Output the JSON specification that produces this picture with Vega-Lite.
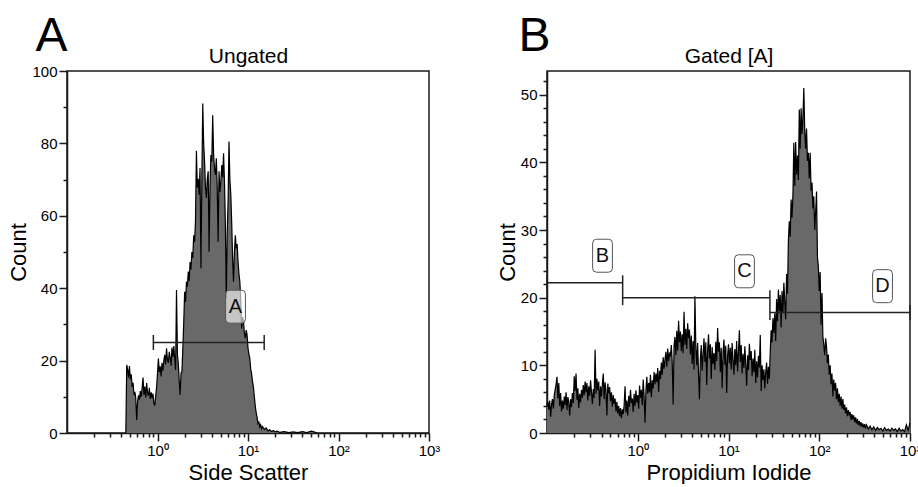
{
"$schema": "https://vega.github.io/schema/vega-lite/v6.json",
"padding": {"left": 7, "top": 11, "right": 0, "bottom": 0},
"background": "white",
"datasets": {
"histA": [
{"value":0.4467,"count":0},{"value":0.4571,"count":18.8},{"value":0.4677,"count":17.6},{"value":0.4786,"count":15.3},{"value":0.4898,"count":18.5},{"value":0.5012,"count":14.8},{"value":0.5129,"count":16.2},{"value":0.5248,"count":12.7},{"value":0.537,"count":13.9},{"value":0.5495,"count":10.5},{"value":0.5623,"count":11.4},{"value":0.5754,"count":9.6},{"value":0.5888,"count":3.6},{"value":0.6026,"count":8.6},{"value":0.6166,"count":10.4},{"value":0.631,"count":9.2},{"value":0.6457,"count":11.6},{"value":0.6607,"count":10.0},{"value":0.6761,"count":12.4},{"value":0.6918,"count":15.3},{"value":0.7079,"count":10.5},{"value":0.7244,"count":12.8},{"value":0.7413,"count":9.8},{"value":0.7586,"count":13.8},{"value":0.7762,"count":11.0},{"value":0.7943,"count":10.3},{"value":0.8128,"count":12.5},{"value":0.8318,"count":9.4},{"value":0.8511,"count":11.2},{"value":0.871,"count":9.6},{"value":0.8913,"count":10.9},{"value":0.912,"count":8.2},{"value":0.9333,"count":7.6},{"value":0.955,"count":10.2},{"value":0.9772,"count":12.7},
{"value":1.0,"count":16.4},{"value":1.023,"count":20.6},{"value":1.047,"count":16.8},{"value":1.072,"count":18.4},{"value":1.096,"count":15.6},{"value":1.122,"count":19.4},{"value":1.148,"count":17.2},{"value":1.175,"count":20.0},{"value":1.202,"count":21.6},{"value":1.23,"count":19.0},{"value":1.259,"count":23.4},{"value":1.288,"count":20.2},{"value":1.318,"count":19.4},{"value":1.349,"count":22.4},{"value":1.38,"count":20.8},{"value":1.413,"count":18.6},{"value":1.445,"count":23.6},{"value":1.479,"count":21.0},{"value":1.514,"count":24.0},{"value":1.549,"count":20.6},{"value":1.585,"count":17.4},{"value":1.622,"count":39.5},{"value":1.66,"count":21.6},{"value":1.698,"count":19.2},{"value":1.738,"count":14.4},{"value":1.778,"count":10.5},{"value":1.82,"count":16.6},{"value":1.862,"count":17.0},{"value":1.905,"count":23.4},{"value":1.95,"count":30.5},{"value":1.995,"count":39.0},{"value":2.042,"count":36.2},{"value":2.089,"count":41.8},{"value":2.138,"count":40.4},{"value":2.188,"count":44.6},{"value":2.239,"count":42.0},{"value":2.291,"count":47.2},{"value":2.344,"count":45.2},{"value":2.399,"count":50.0},{"value":2.455,"count":48.4},{"value":2.512,"count":54.6},{"value":2.57,"count":52.8},{"value":2.63,"count":58.6},{"value":2.692,"count":78.0},{"value":2.754,"count":67.8},{"value":2.818,"count":70.2},{"value":2.884,"count":65.8},{"value":2.951,"count":73.2},{"value":3.02,"count":45.5},{"value":3.09,"count":69.4},{"value":3.162,"count":91.0},{"value":3.236,"count":80.0},{"value":3.311,"count":75.0},{"value":3.388,"count":67.8},{"value":3.467,"count":64.9},{"value":3.548,"count":70.0},{"value":3.631,"count":72.3},{"value":3.715,"count":50.1},{"value":3.802,"count":68.0},{"value":3.89,"count":76.8},{"value":3.981,"count":75.0},{"value":4.074,"count":87.8},{"value":4.169,"count":76.8},{"value":4.266,"count":73.0},{"value":4.365,"count":71.3},{"value":4.467,"count":75.9},{"value":4.571,"count":68.0},{"value":4.677,"count":52.8},{"value":4.786,"count":72.3},{"value":4.898,"count":66.6},{"value":5.012,"count":69.4},{"value":5.129,"count":74.0},{"value":5.248,"count":70.6},{"value":5.37,"count":77.3},{"value":5.495,"count":69.4},{"value":5.623,"count":58.0},{"value":5.754,"count":37.2},{"value":5.888,"count":55.0},{"value":6.026,"count":63.9},{"value":6.166,"count":80.5},{"value":6.31,"count":70.0},{"value":6.457,"count":65.8},{"value":6.607,"count":58.0},{"value":6.761,"count":48.0},{"value":6.918,"count":41.8},{"value":7.079,"count":50.0},{"value":7.244,"count":54.6},{"value":7.413,"count":51.0},{"value":7.586,"count":52.2},{"value":7.762,"count":47.3},{"value":7.943,"count":44.0},{"value":8.128,"count":41.8},{"value":8.318,"count":36.4},{"value":8.511,"count":28.9},{"value":8.71,"count":32.0},{"value":8.913,"count":30.8},{"value":9.12,"count":27.6},{"value":9.333,"count":26.2},{"value":9.55,"count":28.4},{"value":9.772,"count":27.1},
{"value":10.0,"count":23.4},{"value":10.23,"count":21.8},{"value":10.47,"count":20.6},{"value":10.72,"count":17.6},{"value":10.96,"count":16.4},{"value":11.22,"count":14.2},{"value":11.48,"count":12.7},{"value":11.75,"count":10.0},{"value":12.02,"count":7.6},{"value":12.3,"count":5.6},{"value":12.59,"count":4.4},{"value":12.88,"count":2.6},{"value":13.18,"count":3.0},{"value":13.49,"count":1.7},{"value":13.8,"count":2.3},{"value":14.13,"count":1.2},{"value":14.45,"count":1.8},{"value":15.14,"count":1.0},{"value":15.85,"count":1.4},{"value":16.6,"count":0.6},{"value":17.38,"count":0.9},{"value":18.2,"count":0.4},{"value":19.05,"count":0.7},{"value":19.95,"count":0.3},{"value":20.89,"count":0.5},{"value":22.39,"count":0.2},{"value":25.12,"count":0.4},{"value":28.18,"count":0.1},{"value":31.62,"count":0.3},{"value":35.48,"count":0.1},{"value":39.81,"count":0.4},{"value":44.67,"count":0.1},{"value":50.12,"count":0.5},{"value":53.7,"count":0.3},{"value":57.54,"count":0}
],
"histB": [
{"value":0.1,"count":3.9},{"value":0.1023,"count":4.6},{"value":0.1047,"count":3.5},{"value":0.1072,"count":4.8},{"value":0.1096,"count":2.4},{"value":0.1122,"count":4.2},{"value":0.1148,"count":5.0},{"value":0.1175,"count":3.6},{"value":0.1202,"count":5.6},{"value":0.123,"count":6.4},{"value":0.1259,"count":7.2},{"value":0.1288,"count":8.3},{"value":0.1318,"count":5.1},{"value":0.1349,"count":7.4},{"value":0.138,"count":4.0},{"value":0.1413,"count":5.9},{"value":0.1445,"count":3.2},{"value":0.1479,"count":4.8},{"value":0.1514,"count":3.6},{"value":0.1549,"count":5.4},{"value":0.1585,"count":4.1},{"value":0.1622,"count":6.0},{"value":0.166,"count":3.4},{"value":0.1698,"count":5.3},{"value":0.1738,"count":4.6},{"value":0.1778,"count":2.6},{"value":0.182,"count":5.0},{"value":0.1862,"count":3.8},{"value":0.1905,"count":5.9},{"value":0.195,"count":4.4},{"value":0.1995,"count":8.4},{"value":0.2042,"count":6.2},{"value":0.2089,"count":8.8},{"value":0.2138,"count":4.9},{"value":0.2188,"count":6.6},{"value":0.2239,"count":3.7},{"value":0.2291,"count":5.8},{"value":0.2344,"count":4.5},{"value":0.2399,"count":6.4},{"value":0.2455,"count":5.2},{"value":0.2512,"count":7.1},{"value":0.257,"count":5.6},{"value":0.263,"count":7.6},{"value":0.2692,"count":6.0},{"value":0.2754,"count":7.4},{"value":0.2818,"count":4.8},{"value":0.2884,"count":6.9},{"value":0.2951,"count":5.5},{"value":0.302,"count":7.8},{"value":0.309,"count":6.1},{"value":0.3162,"count":4.3},{"value":0.3236,"count":6.5},{"value":0.3311,"count":5.2},{"value":0.3388,"count":12.3},{"value":0.3467,"count":5.8},{"value":0.3548,"count":8.0},{"value":0.3631,"count":6.3},{"value":0.3715,"count":7.6},{"value":0.3802,"count":4.0},{"value":0.389,"count":6.9},{"value":0.3981,"count":5.4},{"value":0.4074,"count":7.2},{"value":0.4169,"count":8.8},{"value":0.4266,"count":5.0},{"value":0.4365,"count":7.5},{"value":0.4467,"count":6.2},{"value":0.4571,"count":2.6},{"value":0.4677,"count":7.3},{"value":0.4786,"count":5.9},{"value":0.4898,"count":6.8},{"value":0.5012,"count":4.7},{"value":0.5129,"count":6.0},{"value":0.5248,"count":3.9},{"value":0.537,"count":5.6},{"value":0.5495,"count":4.3},{"value":0.5623,"count":5.1},{"value":0.5754,"count":3.2},{"value":0.5888,"count":4.6},{"value":0.6026,"count":2.9},{"value":0.6166,"count":4.0},{"value":0.631,"count":2.5},{"value":0.6457,"count":3.7},{"value":0.6607,"count":2.2},{"value":0.6761,"count":3.5},{"value":0.6918,"count":2.8},{"value":0.7079,"count":4.1},{"value":0.7244,"count":6.9},{"value":0.7413,"count":3.0},{"value":0.7586,"count":4.8},{"value":0.7762,"count":2.6},{"value":0.7943,"count":5.5},{"value":0.8128,"count":3.9},{"value":0.8318,"count":6.4},{"value":0.8511,"count":4.4},{"value":0.871,"count":5.1},{"value":0.8913,"count":3.1},{"value":0.912,"count":5.8},{"value":0.9333,"count":4.0},{"value":0.955,"count":6.3},{"value":0.9772,"count":4.5},
{"value":1.0,"count":5.6},{"value":1.023,"count":3.6},{"value":1.047,"count":7.0},{"value":1.072,"count":5.2},{"value":1.096,"count":6.4},{"value":1.122,"count":4.1},{"value":1.148,"count":7.9},{"value":1.175,"count":5.5},{"value":1.202,"count":1.5},{"value":1.23,"count":6.2},{"value":1.259,"count":8.3},{"value":1.288,"count":5.8},{"value":1.318,"count":7.4},{"value":1.349,"count":6.0},{"value":1.38,"count":8.6},{"value":1.413,"count":5.3},{"value":1.445,"count":7.8},{"value":1.479,"count":6.6},{"value":1.514,"count":9.0},{"value":1.549,"count":7.2},{"value":1.585,"count":8.8},{"value":1.622,"count":7.5},{"value":1.66,"count":9.6},{"value":1.698,"count":6.1},{"value":1.738,"count":9.2},{"value":1.778,"count":8.0},{"value":1.82,"count":10.4},{"value":1.862,"count":8.6},{"value":1.905,"count":11.2},{"value":1.95,"count":9.5},{"value":1.995,"count":10.8},{"value":2.042,"count":12.0},{"value":2.089,"count":9.8},{"value":2.138,"count":12.5},{"value":2.188,"count":10.6},{"value":2.239,"count":11.9},{"value":2.291,"count":11.3},{"value":2.344,"count":13.0},{"value":2.399,"count":10.4},{"value":2.455,"count":4.2},{"value":2.512,"count":12.8},{"value":2.57,"count":14.2},{"value":2.63,"count":11.5},{"value":2.692,"count":15.1},{"value":2.754,"count":12.2},{"value":2.818,"count":16.6},{"value":2.884,"count":13.4},{"value":2.951,"count":15.0},{"value":3.02,"count":12.1},{"value":3.09,"count":14.6},{"value":3.162,"count":11.8},{"value":3.236,"count":17.9},{"value":3.311,"count":13.0},{"value":3.388,"count":15.4},{"value":3.467,"count":12.4},{"value":3.548,"count":16.2},{"value":3.631,"count":14.0},{"value":3.715,"count":15.3},{"value":3.802,"count":11.6},{"value":3.89,"count":14.4},{"value":3.981,"count":10.2},{"value":4.074,"count":13.6},{"value":4.169,"count":9.4},{"value":4.266,"count":20.2},{"value":4.365,"count":12.8},{"value":4.467,"count":10.0},{"value":4.571,"count":13.3},{"value":4.677,"count":8.7},{"value":4.786,"count":5.0},{"value":4.898,"count":10.9},{"value":5.012,"count":13.0},{"value":5.129,"count":9.2},{"value":5.248,"count":11.6},{"value":5.37,"count":14.0},{"value":5.495,"count":10.5},{"value":5.623,"count":13.4},{"value":5.754,"count":7.1},{"value":5.888,"count":12.2},{"value":6.026,"count":14.6},{"value":6.166,"count":11.0},{"value":6.31,"count":13.1},{"value":6.457,"count":8.0},{"value":6.607,"count":12.7},{"value":6.761,"count":10.2},{"value":6.918,"count":11.8},{"value":7.079,"count":9.3},{"value":7.244,"count":13.5},{"value":7.413,"count":10.6},{"value":7.586,"count":15.5},{"value":7.762,"count":12.0},{"value":7.943,"count":13.4},{"value":8.128,"count":9.0},{"value":8.318,"count":12.6},{"value":8.511,"count":6.6},{"value":8.71,"count":11.9},{"value":8.913,"count":13.8},{"value":9.12,"count":10.1},{"value":9.333,"count":12.9},{"value":9.55,"count":5.9},{"value":9.772,"count":11.4},
{"value":10.0,"count":13.1},{"value":10.23,"count":10.3},{"value":10.47,"count":12.6},{"value":10.72,"count":9.4},{"value":10.96,"count":13.3},{"value":11.22,"count":10.8},{"value":11.48,"count":8.6},{"value":11.75,"count":12.4},{"value":12.02,"count":10.0},{"value":12.3,"count":13.6},{"value":12.59,"count":9.1},{"value":12.88,"count":12.0},{"value":13.18,"count":15.2},{"value":13.49,"count":10.5},{"value":13.8,"count":13.0},{"value":14.13,"count":8.8},{"value":14.45,"count":11.7},{"value":14.79,"count":9.6},{"value":15.14,"count":12.8},{"value":15.49,"count":10.2},{"value":15.85,"count":7.0},{"value":16.22,"count":11.5},{"value":16.6,"count":9.3},{"value":16.98,"count":13.2},{"value":17.38,"count":10.8},{"value":17.78,"count":12.1},{"value":18.2,"count":8.4},{"value":18.62,"count":11.0},{"value":19.05,"count":9.0},{"value":19.5,"count":12.3},{"value":19.95,"count":7.4},{"value":20.42,"count":10.6},{"value":20.89,"count":8.2},{"value":21.38,"count":11.4},{"value":21.88,"count":9.7},{"value":22.39,"count":14.5},{"value":22.91,"count":6.2},{"value":23.44,"count":10.0},{"value":23.99,"count":7.8},{"value":24.55,"count":9.4},{"value":25.12,"count":6.6},{"value":25.7,"count":8.9},{"value":26.3,"count":10.4},{"value":26.92,"count":7.3},{"value":27.54,"count":9.8},{"value":28.18,"count":8.0},{"value":28.84,"count":12.0},{"value":29.51,"count":15.2},{"value":30.2,"count":13.4},{"value":30.9,"count":17.0},{"value":31.62,"count":14.8},{"value":32.36,"count":17.7},{"value":33.11,"count":13.6},{"value":33.88,"count":19.8},{"value":34.67,"count":16.5},{"value":35.48,"count":21.2},{"value":36.31,"count":18.0},{"value":37.15,"count":20.4},{"value":38.02,"count":15.6},{"value":38.9,"count":21.0},{"value":39.81,"count":17.8},{"value":40.74,"count":22.2},{"value":41.69,"count":19.4},{"value":42.66,"count":16.8},{"value":43.65,"count":23.5},{"value":44.67,"count":20.6},{"value":45.71,"count":28.4},{"value":46.77,"count":31.3},{"value":47.86,"count":29.0},{"value":48.98,"count":34.5},{"value":50.12,"count":31.8},{"value":51.29,"count":35.2},{"value":52.48,"count":42.9},{"value":53.7,"count":36.5},{"value":54.95,"count":43.0},{"value":56.23,"count":38.2},{"value":57.54,"count":41.0},{"value":58.88,"count":37.4},{"value":60.26,"count":47.8},{"value":61.66,"count":42.0},{"value":63.1,"count":48.0},{"value":64.57,"count":44.2},{"value":66.07,"count":46.5},{"value":67.61,"count":51.0},{"value":69.18,"count":44.8},{"value":70.79,"count":42.0},{"value":72.44,"count":45.0},{"value":74.13,"count":40.2},{"value":75.86,"count":41.4},{"value":77.62,"count":37.6},{"value":79.43,"count":41.4},{"value":81.28,"count":35.8},{"value":83.18,"count":37.0},{"value":85.11,"count":33.2},{"value":87.1,"count":35.0},{"value":89.13,"count":30.0},{"value":91.2,"count":32.6},{"value":93.33,"count":35.7},{"value":95.5,"count":26.0},{"value":97.72,"count":24.6},
{"value":100.0,"count":21.0},{"value":102.3,"count":23.8},{"value":104.7,"count":16.0},{"value":107.2,"count":20.7},{"value":109.6,"count":14.3},{"value":112.2,"count":13.0},{"value":114.8,"count":11.5},{"value":117.5,"count":14.0},{"value":120.2,"count":12.8},{"value":123.0,"count":10.3},{"value":125.9,"count":11.6},{"value":128.8,"count":8.6},{"value":131.8,"count":10.0},{"value":134.9,"count":7.2},{"value":138.0,"count":8.8},{"value":141.3,"count":5.4},{"value":144.5,"count":7.9},{"value":147.9,"count":6.3},{"value":151.4,"count":7.4},{"value":154.9,"count":5.0},{"value":158.5,"count":6.6},{"value":162.2,"count":4.6},{"value":166.0,"count":5.8},{"value":169.8,"count":4.0},{"value":173.8,"count":5.4},{"value":177.8,"count":3.6},{"value":182.0,"count":5.0},{"value":186.2,"count":3.4},{"value":190.5,"count":4.2},{"value":195.0,"count":2.9},{"value":199.5,"count":3.8},{"value":204.2,"count":2.5},{"value":208.9,"count":3.4},{"value":213.8,"count":2.7},{"value":218.8,"count":3.1},{"value":223.9,"count":1.9},{"value":229.1,"count":2.8},{"value":234.4,"count":2.0},{"value":239.9,"count":2.6},{"value":245.5,"count":1.6},{"value":251.2,"count":2.3},{"value":257.0,"count":1.4},{"value":263.0,"count":2.1},{"value":269.2,"count":1.2},{"value":275.4,"count":1.8},{"value":281.8,"count":1.0},{"value":288.4,"count":1.6},{"value":295.1,"count":0.9},{"value":302.0,"count":1.4},{"value":309.0,"count":0.8},{"value":316.2,"count":1.3},{"value":323.6,"count":0.7},{"value":331.1,"count":1.2},{"value":346.7,"count":0.6},{"value":363.1,"count":1.0},{"value":380.2,"count":0.5},{"value":398.1,"count":0.9},{"value":416.9,"count":0.4},{"value":436.5,"count":0.8},{"value":457.1,"count":0.5},{"value":478.6,"count":0.7},{"value":501.2,"count":0.3},{"value":524.8,"count":0.8},{"value":549.5,"count":0.4},{"value":575.4,"count":0.6},{"value":602.6,"count":0.3},{"value":631.0,"count":0.7},{"value":660.7,"count":0.4},{"value":691.8,"count":0.6},{"value":724.4,"count":0.2},{"value":758.6,"count":0.7},{"value":794.3,"count":0.3},{"value":831.8,"count":0.5},{"value":871.0,"count":0.2},{"value":912.0,"count":1.2},{"value":955.0,"count":0.4},{"value":1000,"count":1.5}
],
"gatesA": [{"gate":"A","from":0.9,"to":15.1,"level":25}],
"gatesB": [{"gate":"B","from":0.1,"to":0.682,"level":22.2},{"gate":"C","from":0.682,"to":28.6,"level":20.0},{"gate":"D","from":28.6,"to":1000,"level":17.8}],
"labelsA": [{"gate":"A","value":7.28,"count":34.9}],
"labelsB": [{"gate":"B","value":0.409,"count":26.2},{"gate":"C","value":15.0,"count":23.9},{"gate":"D","value":498,"count":21.7}]
},
"hconcat": [
{
"width": 362, "height": 362,
"layer": [
{"data": {"name": "histA"},
 "mark": {"type": "area", "color": "#696969", "opacity": 1, "line": {"color": "#000000", "strokeWidth": 1.2}},
 "encoding": {
  "x": {"field": "value", "type": "quantitative", "scale": {"type": "log", "domain": [0.1, 1000], "nice": false}, "axis": {"orient": "bottom", "values": [1, 10, 100, 1000], "labelExpr": "datum.value == 1 ? '10⁰' : datum.value == 10 ? '10¹' : datum.value == 100 ? '10²' : '10³'", "tickSize": 8, "title": "Side Scatter", "labelFlush": false}},
  "y": {"field": "count", "type": "quantitative", "scale": {"domain": [0, 100], "nice": false}, "axis": {"orient": "left", "values": [0, 20, 40, 60, 80, 100], "tickSize": 8, "title": "Count", "titlePadding": 1, "labelFlush": false}}
 }},
{"data": {"name": "gatesA"},
 "mark": {"type": "rule", "color": "#222222", "strokeWidth": 1.5},
 "encoding": {
  "x": {"field": "from", "type": "quantitative", "scale": {"type": "log", "domain": [0.1, 1000], "nice": false}, "axis": {"orient": "bottom", "values": [0.2,0.3,0.4,0.5,0.6,0.7,0.8,0.9,2,3,4,5,6,7,8,9,20,30,40,50,60,70,80,90,200,300,400,500,600,700,800,900], "tickSize": 4, "labels": false, "domain": false, "title": null}},
  "x2": {"field": "to"},
  "y": {"field": "level", "type": "quantitative", "scale": {"domain": [0, 100], "nice": false}, "axis": {"orient": "left", "values": [10, 30, 50, 70, 90], "tickSize": 4, "labels": false, "domain": false, "title": null}}
 }},
{"data": {"name": "gatesA"},
 "mark": {"type": "tick", "orient": "vertical", "size": 15, "thickness": 1.5, "color": "#222222", "opacity": 1},
 "encoding": {
  "x": {"field": "from", "type": "quantitative", "scale": {"type": "log", "domain": [0.1, 1000], "nice": false}, "axis": {"orient": "top", "ticks": false, "labels": false, "domain": false, "title": "Ungated", "titleX": 181, "titleY": -9, "titleAlign": "center", "titleBaseline": "alphabetic", "titleFontSize": 21, "titleAngle": 0}},
  "y": {"field": "level", "type": "quantitative", "scale": {"domain": [0, 100], "nice": false}, "axis": null}
 }},
{"data": {"name": "gatesA"},
 "mark": {"type": "tick", "orient": "vertical", "size": 15, "thickness": 1.5, "color": "#222222", "opacity": 1},
 "encoding": {
  "x": {"field": "to", "type": "quantitative", "scale": {"type": "log", "domain": [0.1, 1000], "nice": false}, "axis": {"orient": "top", "ticks": false, "labels": false, "domain": false, "title": "A", "titleX": -32, "titleY": -21, "titleAlign": "left", "titleBaseline": "alphabetic", "titleFontSize": 48, "titleAngle": 0}},
  "y": {"field": "level", "type": "quantitative", "scale": {"domain": [0, 100], "nice": false}, "axis": null}
 }},
{"data": {"name": "labelsA"},
 "mark": {"type": "point", "shape": "M-0.36,-1L0.36,-1Q0.6,-1 0.6,-0.76L0.6,0.76Q0.6,1 0.36,1L-0.36,1Q-0.6,1 -0.6,0.76L-0.6,-0.76Q-0.6,-1 -0.36,-1Z", "size": 1089, "filled": true, "fill": "#ffffff", "fillOpacity": 0.62, "stroke": "#555555", "strokeWidth": 1, "opacity": 1},
 "encoding": {
  "x": {"field": "value", "type": "quantitative", "scale": {"type": "log", "domain": [0.1, 1000], "nice": false}, "axis": null},
  "y": {"field": "count", "type": "quantitative", "scale": {"domain": [0, 100], "nice": false}, "axis": null}
 }},
{"data": {"name": "labelsA"},
 "mark": {"type": "text", "fontSize": 20, "color": "#111111", "font": "Liberation Sans", "baseline": "middle", "align": "center"},
 "encoding": {
  "x": {"field": "value", "type": "quantitative", "scale": {"type": "log", "domain": [0.1, 1000], "nice": false}, "axis": null},
  "y": {"field": "count", "type": "quantitative", "scale": {"domain": [0, 100], "nice": false}, "axis": null},
  "text": {"field": "gate"}
 }}
],
"resolve": {"axis": {"x": "independent", "y": "independent"}}
},
{
"width": 363, "height": 362,
"layer": [
{"data": {"name": "histB"},
 "mark": {"type": "area", "color": "#696969", "opacity": 1, "line": {"color": "#000000", "strokeWidth": 1.2}},
 "encoding": {
  "x": {"field": "value", "type": "quantitative", "scale": {"type": "log", "domain": [0.1, 1000], "nice": false}, "axis": {"orient": "bottom", "values": [1, 10, 100, 1000], "labelExpr": "datum.value == 1 ? '10⁰' : datum.value == 10 ? '10¹' : datum.value == 100 ? '10²' : '10³'", "tickSize": 8, "title": "Propidium Iodide", "labelFlush": false}},
  "y": {"field": "count", "type": "quantitative", "scale": {"domain": [0, 53.5], "nice": false}, "axis": {"orient": "left", "values": [0, 10, 20, 30, 40, 50], "tickSize": 8, "title": "Count", "titlePadding": 1, "labelFlush": false}}
 }},
{"data": {"name": "gatesB"},
 "mark": {"type": "rule", "color": "#222222", "strokeWidth": 1.5},
 "encoding": {
  "x": {"field": "from", "type": "quantitative", "scale": {"type": "log", "domain": [0.1, 1000], "nice": false}, "axis": {"orient": "bottom", "values": [0.2,0.3,0.4,0.5,0.6,0.7,0.8,0.9,2,3,4,5,6,7,8,9,20,30,40,50,60,70,80,90,200,300,400,500,600,700,800,900], "tickSize": 4, "labels": false, "domain": false, "title": null}},
  "x2": {"field": "to"},
  "y": {"field": "level", "type": "quantitative", "scale": {"domain": [0, 53.5], "nice": false}, "axis": {"orient": "left", "values": [2,4,6,8,12,14,16,18,22,24,26,28,32,34,36,38,42,44,46,48,52], "tickSize": 4, "labels": false, "domain": false, "title": null}}
 }},
{"data": {"name": "gatesB"},
 "mark": {"type": "tick", "orient": "vertical", "size": 15, "thickness": 1.5, "color": "#222222", "opacity": 1},
 "encoding": {
  "x": {"field": "from", "type": "quantitative", "scale": {"type": "log", "domain": [0.1, 1000], "nice": false}, "axis": {"orient": "top", "ticks": false, "labels": false, "domain": false, "title": "Gated [A]", "titleX": 181.5, "titleY": -9, "titleAlign": "center", "titleBaseline": "alphabetic", "titleFontSize": 21, "titleAngle": 0}},
  "y": {"field": "level", "type": "quantitative", "scale": {"domain": [0, 53.5], "nice": false}, "axis": null}
 }},
{"data": {"name": "gatesB"},
 "mark": {"type": "tick", "orient": "vertical", "size": 15, "thickness": 1.5, "color": "#222222", "opacity": 1},
 "encoding": {
  "x": {"field": "to", "type": "quantitative", "scale": {"type": "log", "domain": [0.1, 1000], "nice": false}, "axis": {"orient": "top", "ticks": false, "labels": false, "domain": false, "title": "B", "titleX": -29, "titleY": -21, "titleAlign": "left", "titleBaseline": "alphabetic", "titleFontSize": 48, "titleAngle": 0}},
  "y": {"field": "level", "type": "quantitative", "scale": {"domain": [0, 53.5], "nice": false}, "axis": null}
 }},
{"data": {"name": "labelsB"},
 "mark": {"type": "point", "shape": "M-0.36,-1L0.36,-1Q0.6,-1 0.6,-0.76L0.6,0.76Q0.6,1 0.36,1L-0.36,1Q-0.6,1 -0.6,0.76L-0.6,-0.76Q-0.6,-1 -0.36,-1Z", "size": 1089, "filled": true, "fill": "#ffffff", "fillOpacity": 0.62, "stroke": "#555555", "strokeWidth": 1, "opacity": 1},
 "encoding": {
  "x": {"field": "value", "type": "quantitative", "scale": {"type": "log", "domain": [0.1, 1000], "nice": false}, "axis": null},
  "y": {"field": "count", "type": "quantitative", "scale": {"domain": [0, 53.5], "nice": false}, "axis": null}
 }},
{"data": {"name": "labelsB"},
 "mark": {"type": "text", "fontSize": 20, "color": "#111111", "font": "Liberation Sans", "baseline": "middle", "align": "center"},
 "encoding": {
  "x": {"field": "value", "type": "quantitative", "scale": {"type": "log", "domain": [0.1, 1000], "nice": false}, "axis": null},
  "y": {"field": "count", "type": "quantitative", "scale": {"domain": [0, 53.5], "nice": false}, "axis": null},
  "text": {"field": "gate"}
 }}
],
"resolve": {"axis": {"x": "independent", "y": "independent"}}
}
],
"spacing": 118,
"bounds": "flush",
"config": {
 "font": "Liberation Sans",
 "view": {"stroke": "#1a1a1a", "strokeWidth": 1.5},
 "axis": {"domainColor": "#1a1a1a", "domainWidth": 1.5, "tickColor": "#1a1a1a", "tickWidth": 1.5, "labelFont": "Liberation Sans", "labelFontSize": 15, "labelColor": "#000000", "titleFont": "Liberation Sans", "titleFontSize": 22, "titleFontWeight": "normal", "titleColor": "#000000", "grid": false, "labelPadding": 2, "titlePadding": 4}
}
}
